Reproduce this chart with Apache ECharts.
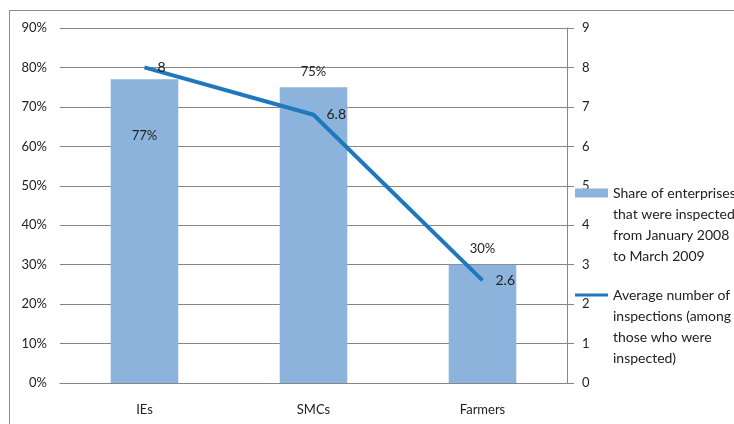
<!DOCTYPE html>
<html>
<head>
<meta charset="utf-8">
<script src="https://cdn.jsdelivr.net/npm/echarts@6/dist/echarts.min.js"></script>
<style>
  html, body { margin: 0; padding: 0; background: #fff; overflow: hidden; }
  #frame { position: absolute; left: 9px; top: 10px; width: 800px; height: 500px;
           border-left: 1px solid #8c8c8c; border-top: 1px solid #8c8c8c; }
  #chart { position: absolute; left: 0; top: 0; width: 734px; height: 424px; }
</style>
</head>
<body>
<div id="frame"></div>
<div id="chart"></div>
<script>
// categories and values
const categories = ['IEs', 'SMCs', 'Farmers'];
const shareInspected = [77, 75, 30];      // percent
const avgInspections = [8, 6.8, 2.6];     // count
const leftTicks = [0, 10, 20, 30, 40, 50, 60, 70, 80, 90];
const rightTicks = [0, 1, 2, 3, 4, 5, 6, 7, 8, 9];

const barName = 'Share of enterprises\nthat were inspected\nfrom January 2008\nto March 2009';
const lineName = 'Average number of\ninspections (among\nthose who were\ninspected)';

const font = 'Lato, "Open Sans", sans-serif';
const barColor = '#8cb3db';
const lineColor = '#1f78be';

const chart = echarts.init(document.getElementById('chart'));

// bar labels: first one sits inside the bar, the others on top
const barData = shareInspected.map((v, i) => ({
  value: v,
  label: i === 0
    ? { position: 'insideTop', distance: 50 }
    : { position: 'top', distance: 9 }
}));

// the legend text is centred on the icon, so pad it with empty lines
// to have the first line level with the swatch
const legendBase = {
  left: 575, padding: 0, itemGap: 0, itemWidth: 33,
  formatter: name => '\n\n\n' + name,
  textStyle: { fontFamily: font, fontSize: 14, color: '#222', lineHeight: 21 }
};

const option = {
  animation: false,
  textStyle: { fontFamily: font },
  grid: { left: 60, right: 167, top: 28, bottom: 41 },
  legend: [
    Object.assign({}, legendBase, {
      data: [{ name: barName, icon: 'rect' }], top: 193 - 73.5, itemHeight: 9
    }),
    Object.assign({}, legendBase, {
      data: [{ name: lineName, icon: 'rect' }], top: 295 - 73.5, itemHeight: 3
    })
  ],
  xAxis: {
    type: 'category',
    data: categories,
    axisLine: { lineStyle: { color: '#868686' } },
    axisTick: { length: 6, lineStyle: { color: '#868686' } },
    axisLabel: { color: '#222', fontSize: 13, margin: 20, fontFamily: font }
  },
  yAxis: [
    {
      type: 'value', min: 0, max: 90, interval: 10,
      axisLine: { show: false },
      axisTick: { show: false },
      axisLabel: { formatter: '{value}%', color: '#222', fontSize: 13, margin: 13, fontFamily: font },
      splitLine: { lineStyle: { color: '#868686' } }
    },
    {
      type: 'value', min: 0, max: 9, interval: 1,
      position: 'right',
      axisLine: { show: true, lineStyle: { color: '#868686' } },
      axisTick: { show: true, length: 7, lineStyle: { color: '#868686' } },
      axisLabel: { color: '#222', fontSize: 13, margin: 15, fontFamily: font },
      splitLine: { show: false }
    }
  ],
  series: [
    {
      name: barName,
      type: 'bar',
      barWidth: '40%',
      itemStyle: { color: barColor },
      label: { show: true, formatter: '{c}%', color: '#222', fontSize: 13, fontFamily: font },
      data: barData
    },
    {
      name: lineName,
      type: 'line',
      yAxisIndex: 1,
      symbol: 'circle',
      symbolSize: 0,
      lineStyle: { color: lineColor, width: 4 },
      itemStyle: { color: lineColor },
      label: { show: true, position: 'right', distance: 13, color: '#222', fontSize: 14, fontFamily: font },
      data: avgInspections
    }
  ]
};

chart.setOption(option);
</script>
</body>
</html>
